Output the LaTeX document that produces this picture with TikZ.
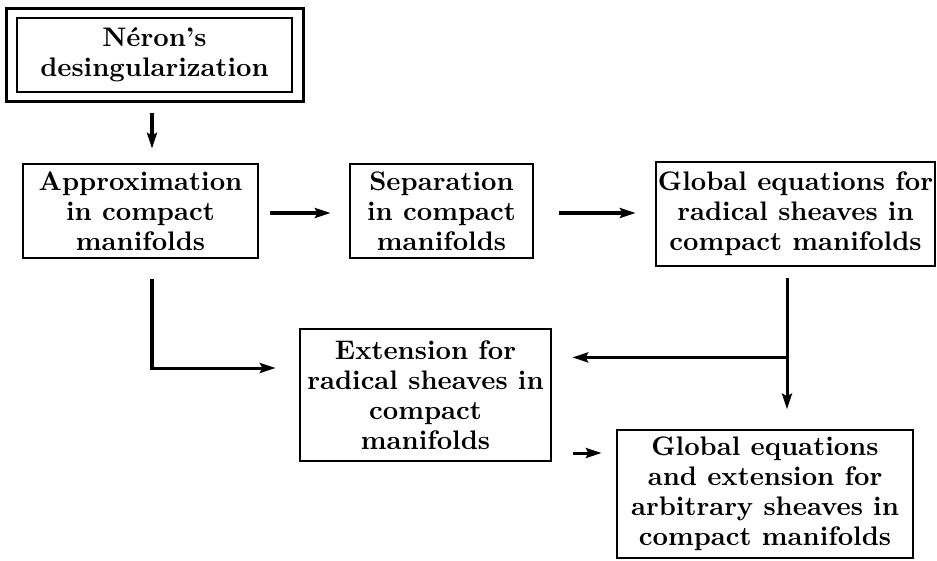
\documentclass[tikz,border=0pt]{standalone}
\usetikzlibrary{arrows.meta,calc}
\begin{document}
\begin{tikzpicture}[x=0.38pt,y=-0.38pt,
  box/.style={draw,line width=1.05pt,align=center,inner sep=0pt,font=\bfseries\fontsize{10.2}{11.4}\selectfont},
  arr/.style={line width=1.15pt,-{Stealth[length=6pt,width=3.8pt,inset=1pt]}},
  ln/.style={line width=1.05pt}]
\useasboundingbox (0,0) rectangle (937,560);
\node[box,minimum width=275*0.38pt,minimum height=74*0.38pt] (n) at (154.5,55) {N\'eron's\\desingularization};
\draw[ln] ($(n.north west)+(-9,-8)$) rectangle ($(n.south east)+(10,8)$);
\node[box,minimum width=235*0.38pt,minimum height=94*0.38pt] (a) at (140.5,211) {Approximation\\in compact\\manifolds};
\node[box,minimum width=183*0.38pt,minimum height=94*0.38pt] (s) at (441.5,211) {Separation\\in compact\\manifolds};
\node[box,minimum width=279*0.38pt,minimum height=104*0.38pt] (g) at (795.5,214) {Global equations for\\radical sheaves in\\compact manifolds};
\node[box,minimum width=251*0.38pt,minimum height=132*0.38pt] (e) at (425.5,395) {Extension for\\radical sheaves in\\compact\\manifolds};
\node[box,minimum width=296*0.38pt,minimum height=128*0.38pt] (f) at (765,494) {Global equations\\and extension for\\arbitrary sheaves in\\compact manifolds};
\draw[arr] ($(a.north)+(11.5,-50)$) -- ($(a.north)+(11.5,-14)$);
\draw[arr] ($(a.east)+(11,2)$) -- ($(s.west)+(-18,2)$);
\draw[arr] ($(s.east)+(25,2)$) -- ($(g.west)+(-19,-1)$);
\draw[arr] ($(a.south)+(11.5,20)$) |- ($(e.west)+(-23,-27)$);
\coordinate (j) at ($(g.south)+(-8.5,90)$);
\draw[arr] ($(g.south)+(-8.5,11)$) -- ($(g.south)+(-8.5,142)$);
\draw[arr] (j) -- ($(j -| e.east)+(20,0)$);
\draw[arr] ($(e.east)+(21,58)$) -- ($(f.west)+(-14,-41)$);
\end{tikzpicture}
\end{document}
